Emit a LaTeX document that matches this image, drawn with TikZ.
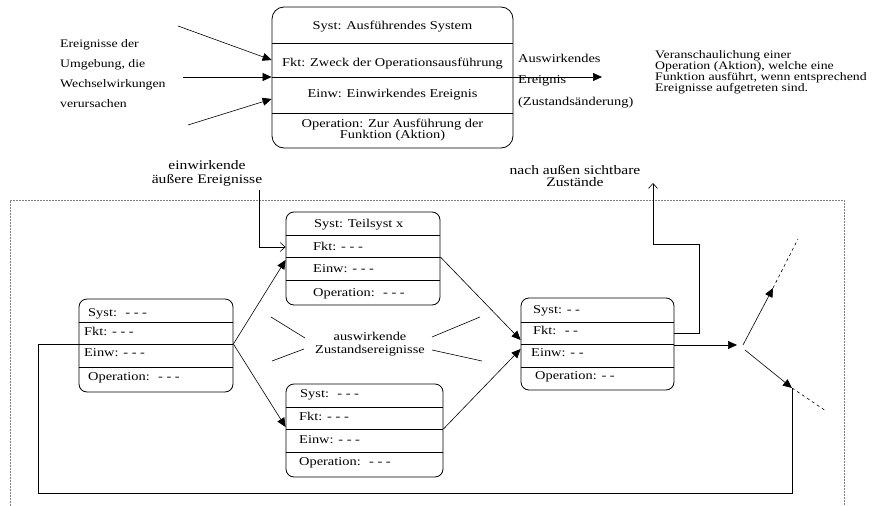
\documentclass[tikz,border=0pt]{standalone}
\usepackage{fontspec}
\setmainfont[FakeStretch=1.2]{Liberation Serif}
\usetikzlibrary{arrows.meta}
\begin{document}
\begin{tikzpicture}[x=1pt,y=-1pt,
  box/.style={draw, line width=0.8pt, rounded corners=8pt, inner sep=0pt},
  bigbox/.style={box, rounded corners=12pt},
  lbl/.style={inner sep=0pt, anchor=base west, font=\fontsize{12}{12}\selectfont},
  clbl/.style={inner sep=0pt, anchor=base, font=\fontsize{12}{12}\selectfont},
  big/.style={inner sep=0pt, anchor=base, font=\fontsize{13}{13}\selectfont},
  desc/.style={inner sep=0pt, anchor=base west, font=\fontsize{11.5}{11.5}\selectfont},
  side/.style={inner sep=0pt, anchor=base west, font=\fontsize{11.5}{11.5}\selectfont},
  div/.style={line width=0.7pt},
  conn/.style={line width=0.6pt},
  tri/.style={conn, -{Triangle[length=9pt,width=8pt]}},
  barb/.style={conn, -{Straight Barb[length=5pt,width=9pt]}},
  frame/.style={gray, line width=0.8pt, dash pattern=on 2pt off 1pt},
]
\useasboundingbox (0,0) rectangle (879,506);

% ---------- top box ----------
\node[bigbox, minimum width=241pt, minimum height=141pt] (top) at (392.5,77.5) {};
\draw[div] (top.west |- 0,43) -- (top.east |- 0,43);
\draw[div] (top.west |- 0,77) -- (top.east |- 0,77);
\draw[div] (top.west |- 0,113) -- (top.east |- 0,113);
\node[clbl] (top1) at (392.5,29) {Syst: Ausführendes System};
\node[clbl] (top2) at (392.5,66) {Fkt: Zweck der Operationsausführung};
\node[clbl] (top3) at (392.5,97) {Einw: Einwirkendes Ereignis};
\node[clbl] (top4) at (392.5,127) {Operation: Zur Ausführung der};
\node[clbl] (top5) at (392.5,138) {Funktion (Aktion)};

\node[side] (s1) at (60,47) {Ereignisse der};
\node[side] (s2) at (60,67) {Umgebung, die};
\node[side] (s3) at (60,87) {Wechselwirkungen};
\node[side] (s4) at (60,107) {verursachen};

\coordinate (in1) at (178,26);
\coordinate (in2) at (183,77);
\coordinate (in3) at (188,125);
\draw[tri] (in1) -- (top.west |- 0,60);
\draw[tri] (in2) -- (top.west |- 0,77);
\draw[tri] (in3) -- (top.west |- 0,99);

\coordinate (out1) at (602,77);
\draw[tri] (top.east |- 0,77) -- (out1);
\node[lbl] (o1) at (518,62) {Auswirkendes};
\node[lbl] (o2) at (518,83) {Ereignis};
\node[lbl] (o3) at (518,105) {(Zustandsänderung)};

\node[desc] (d1) at (655,58) {Veranschaulichung einer};
\node[desc] (d2) at (655,69) {Operation (Aktion), welche eine};
\node[desc] (d3) at (655,80) {Funktion ausführt, wenn entsprechend};
\node[desc] (d4) at (655,91) {Ereignisse aufgetreten sind.};

% ---------- frame ----------
\draw[frame] (10,506) -- (10,200) -- (844,200) -- (844,506);

% ---------- labels ----------
\node[big] (e1) at (207,169) {einwirkende};
\node[big] (e2) at (207,183) {äußere Ereignisse};
\node[big] (n1) at (575,174) {nach außen sichtbare};
\node[big] (n2) at (575,186) {Zustände};
\node[clbl] (a1) at (370,340) {auswirkende};
\node[clbl] (a2) at (370,353) {Zustandsereignisse};

% ---------- boxes ----------
% Teilsystem box
\node[box, minimum width=154pt, minimum height=93pt] (T) at (363,258.5) {};
\draw[div] (T.west |- 0,235) -- (T.east |- 0,235);
\draw[div] (T.west |- 0,257) -- (T.east |- 0,257);
\draw[div] (T.west |- 0,280) -- (T.east |- 0,280);
\node[lbl] (T1) at (314,227) {Syst: Teilsyst x};
\node[lbl] (T2) at (313,250) {Fkt: - - -};
\node[lbl] (T3) at (313,272) {Einw: - - -};
\node[lbl] (T4) at (313,296) {Operation: \ - - -};

% Left box
\node[box, minimum width=154pt, minimum height=93pt] (L) at (156,345.5) {};
\draw[div] (L.west |- 0,322) -- (L.east |- 0,322);
\draw[div] (L.west |- 0,344) -- (L.east |- 0,344);
\draw[div] (L.west |- 0,367) -- (L.east |- 0,367);
\node[lbl] (L1) at (88,316) {Syst: \ - - -};
\node[lbl] (L2) at (84,335) {Fkt: - - -};
\node[lbl] (L3) at (84,356) {Einw: - - -};
\node[lbl] (L4) at (88,380) {Operation: \ - - -};

% Bottom box
\node[box, minimum width=157pt, minimum height=93pt] (B) at (364.5,430.5) {};
\draw[div] (B.west |- 0,407) -- (B.east |- 0,407);
\draw[div] (B.west |- 0,429) -- (B.east |- 0,429);
\draw[div] (B.west |- 0,452) -- (B.east |- 0,452);
\node[lbl] (B1) at (300,397) {Syst: \ - - -};
\node[lbl] (B2) at (299,420) {Fkt: - - -};
\node[lbl] (B3) at (299,443) {Einw: - - -};
\node[lbl] (B4) at (299,465) {Operation: \ - - -};

% Right box
\node[box, minimum width=153pt, minimum height=92pt] (R) at (597.5,344) {};
\draw[div] (R.west |- 0,322) -- (R.east |- 0,322);
\draw[div] (R.west |- 0,344) -- (R.east |- 0,344);
\draw[div] (R.west |- 0,367) -- (R.east |- 0,367);
\node[lbl] (R1) at (533,313) {Syst: - -};
\node[lbl] (R2) at (533,334) {Fkt: \ - -};
\node[lbl] (R3) at (531,356) {Einw: - -};
\node[lbl] (R4) at (535,379) {Operation: - -};

% ---------- connectors ----------
\coordinate (ein) at (259,190);
\draw[barb] (ein) |- (T.west |- 0,247);

\draw[tri] (L.east |- 0,344) -- (T.west |- 0,260);
\draw[tri] (L.east |- 0,344) -- (B.west |- 0,427);
\draw[tri] (T.east |- 0,257) -- (R.west |- 0,340);
\draw[tri] (B.east |- 0,429) -- (R.west |- 0,349);

\coordinate (vis) at (653,183);
\draw[barb] (R.east |- 0,333) -- (699,333) -- (699,244) -- (653,244) -- (vis);

\coordinate (fk) at (737,345);
\draw[tri] (R.east |- 0,345) -- (fk);

\coordinate (f1a) at (743,345);
\coordinate (f1b) at (773,288);
\coordinate (f1c) at (798,239);
\draw[tri] (f1a) -- (f1b);
\draw[conn, dashed] (f1b) -- (f1c);

\coordinate (f2a) at (745,350);
\coordinate (f2b) at (792,388);
\coordinate (f2c) at (826,411);
\draw[tri] (f2a) -- (f2b);
\draw[conn, dashed] (f2b) -- (f2c);

\draw[conn] (L.west |- 0,344) -- (38,344) -- (38,493) -- (792,493) -- (f2b);

% lines around middle label
\draw[conn] (271,317) -- (305,338);
\draw[conn] (272,361) -- (304,349);
\draw[conn] (432,337) -- (480,317);
\draw[conn] (432,350) -- (482,361);
\end{tikzpicture}
\end{document}
